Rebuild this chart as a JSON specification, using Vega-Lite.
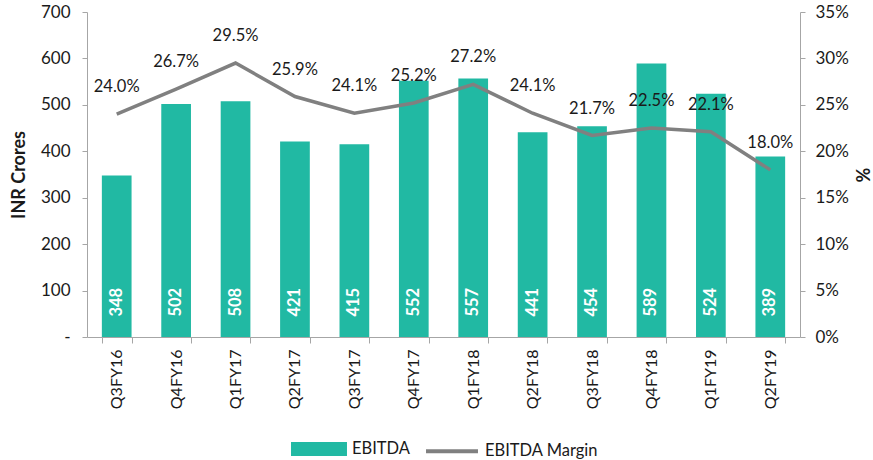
{
  "$schema": "https://vega.github.io/schema/vega-lite/v6.json",
  "width": 713,
  "height": 325,
  "autosize": {"type": "none"},
  "padding": {"left": 87, "top": 12, "right": 73, "bottom": 123},
  "background": "white",
  "config": {
    "view": {"stroke": null},
    "font": "Lato",
    "axis": {"grid": false, "domainColor": "#a6a6a6", "tickColor": "#a6a6a6", "labelColor": "#1a1a1a", "labelFont": "Lato", "titleFont": "Lato", "labelFontSize": 17, "titleFontSize": 18, "titleFontWeight": "bold", "titleColor": "#1a1a1a"}
  },
  "data": {"values": [
    {"q": "Q3FY16", "ebitda": 348, "margin": 0.240},
    {"q": "Q4FY16", "ebitda": 502, "margin": 0.267},
    {"q": "Q1FY17", "ebitda": 508, "margin": 0.295},
    {"q": "Q2FY17", "ebitda": 421, "margin": 0.259},
    {"q": "Q3FY17", "ebitda": 415, "margin": 0.241},
    {"q": "Q4FY17", "ebitda": 552, "margin": 0.252},
    {"q": "Q1FY18", "ebitda": 557, "margin": 0.272},
    {"q": "Q2FY18", "ebitda": 441, "margin": 0.241},
    {"q": "Q3FY18", "ebitda": 454, "margin": 0.217},
    {"q": "Q4FY18", "ebitda": 589, "margin": 0.225},
    {"q": "Q1FY19", "ebitda": 524, "margin": 0.221},
    {"q": "Q2FY19", "ebitda": 389, "margin": 0.180}
  ]},
  "encoding": {
    "x": {"field": "q", "type": "nominal", "sort": null,
      "scale": {"paddingInner": 0.5, "paddingOuter": 0.25},
      "axis": {"title": null, "labelAngle": -90, "labelFontSize": 16, "tickBand": "extent", "tickSize": 6, "labelPadding": 6, "labelBaseline": "middle", "labelAlign": "right"}}
  },
  "layer": [
    {
      "layer": [
        {
          "mark": {"type": "bar", "color": "#21b9a3"},
          "encoding": {
            "y": {"field": "ebitda", "type": "quantitative",
              "scale": {"domain": [0, 700], "nice": false},
              "axis": {"title": "INR Crores", "values": [0,100,200,300,400,500,600,700], "labelExpr": "datum.value == 0 ? '-' : datum.label", "tickSize": 5, "labelPadding": 12, "titlePadding": 12}},
            "color": {"datum": "EBITDA", "type": "nominal",
              "scale": {"domain": ["EBITDA", "EBITDA Margin"], "range": ["#21b9a3", "#808080"]},
              "legend": {
                "title": null, "orient": "none", "legendX": 204, "legendY": 409, "direction": "horizontal",
                "labelFontSize": 16.5, "labelFont": "Lato", "labelColor": "#1a1a1a", "columnPadding": 8, "labelOffset": 5, "symbolSize": 2700,
                "encode": {"symbols": {"update": {
                  "shape": {"signal": "datum.label == 'EBITDA' ? 'M-1,-0.19H1V0.19H-1Z' : 'M-1,0H1'"},
                  "fill": {"signal": "datum.label == 'EBITDA' ? '#21b9a3' : 'transparent'"},
                  "stroke": {"signal": "datum.label == 'EBITDA' ? 'transparent' : '#808080'"},
                  "strokeWidth": {"value": 4}
                }}}
              }}
          }
        },
        {
          "mark": {"type": "text", "angle": 270, "color": "white", "fontWeight": "bold", "fontSize": 16.5, "align": "center", "baseline": "middle"},
          "encoding": {
            "y": {"datum": 75, "type": "quantitative"},
            "text": {"field": "ebitda", "type": "quantitative"}
          }
        }
      ]
    },
    {
      "layer": [
        {
          "mark": {"type": "line", "strokeWidth": 3.5},
          "encoding": {
            "y": {"field": "margin", "type": "quantitative",
              "scale": {"domain": [0, 0.35], "nice": false},
              "axis": {"orient": "right", "title": "%", "format": ".0%", "values": [0,0.05,0.1,0.15,0.2,0.25,0.3,0.35], "tickSize": 5, "labelPadding": 10, "titlePadding": 3}},
            "color": {"datum": "EBITDA Margin", "type": "nominal"}
          }
        },
        {
          "mark": {"type": "text", "fontSize": 16.5, "color": "#1a1a1a", "dy": -27, "baseline": "middle"},
          "encoding": {
            "y": {"field": "margin", "type": "quantitative"},
            "text": {"field": "margin", "type": "quantitative", "format": ".1%"}
          }
        }
      ]
    }
  ],
  "resolve": {"scale": {"y": "independent"}}
}
